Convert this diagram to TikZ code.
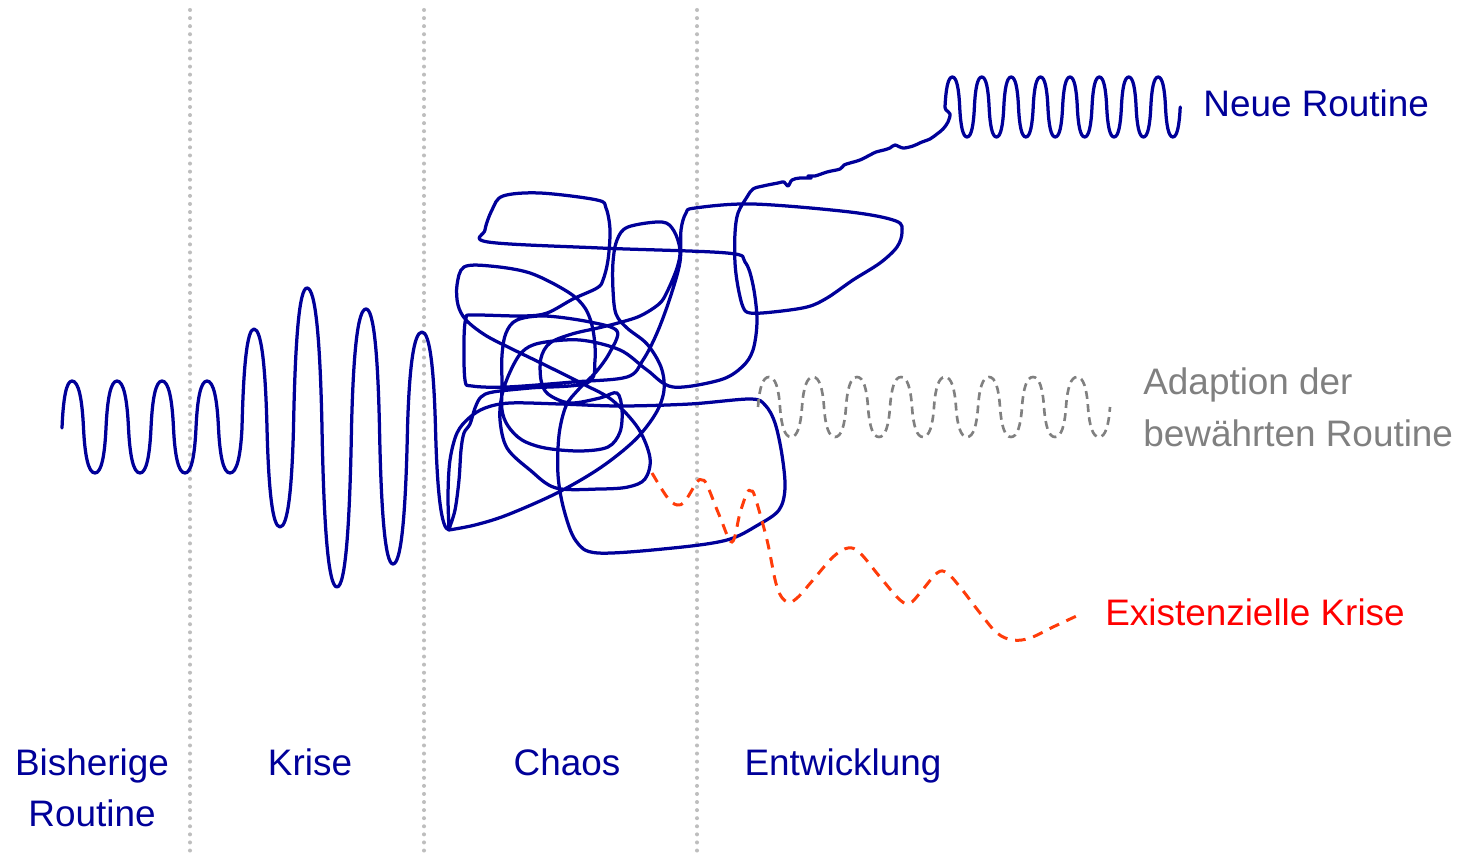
\documentclass[tikz,border=0pt]{standalone}
\usepackage{fontspec}
\setmainfont{Liberation Sans}
\definecolor{navy}{RGB}{0,0,153}
\definecolor{redline}{RGB}{255,60,10}
\definecolor{graytext}{RGB}{128,128,128}
\definecolor{dotgray}{RGB}{190,190,190}
% quarter waves: crossing -> extreme, extreme -> crossing
\newcommand\wext[2]{.. controls +({0.12*#1},{0.62*#2}) and +({-0.58*#1},0) .. ++(#1,#2)}
\newcommand\wcross[2]{.. controls +({0.58*#1},0) and +({-0.12*#1},{-0.62*#2}) .. ++(#1,#2)}
\newcommand\nrperiod{\wext{7.35}{-30}\wcross{7.35}{30}\wext{7.35}{30}\wcross{7.35}{-30}}
\newcommand\adperiod{\wext{11}{-30}\wcross{11}{30}\wext{11}{30}\wcross{11}{-30}}
\begin{document}
\begin{tikzpicture}[x=0.02cm,y=-0.02cm,
  lbl/.style={inner sep=0pt,font=\fontsize{21}{29}\selectfont},
  dotline/.style={dotgray,line width=2.3pt,line cap=round,dash pattern=on 0pt off 4.6pt},
  blueline/.style={navy,line width=1.85pt,line join=round,line cap=round},
  graywave/.style={graytext,line width=1.5pt,dash pattern=on 4.5pt off 3pt},
  redwave/.style={redline,line width=1.7pt,dash pattern=on 6pt off 4.5pt}]
\useasboundingbox (0,0) rectangle (1466,858);
% phase separators
\draw[dotline] (190,10) -- (190,858);
\draw[dotline] (424,10) -- (424,858);
\draw[dotline] (697,10) -- (697,858);
% main blue line
\draw[blueline] (62,428)
  \wext{10}{-47} \wcross{11.5}{47} \wext{11.5}{45} \wcross{11}{-45}
  \wext{11}{-47} \wcross{11.5}{47} \wext{11.5}{45} \wcross{11}{-45}
  \wext{11}{-47} \wcross{11.5}{47} \wext{11.5}{45} \wcross{11}{-45}
  \wext{11}{-47} \wcross{11.5}{47} \wext{11.5}{45} \wcross{12}{-45}
  \wext{12}{-99} \wcross{13}{99} \wext{13}{99} \wcross{13.5}{-99}
  \wext{13.5}{-140} \wcross{15}{140} \wext{15}{159} \wcross{14.5}{-159}
  \wext{14.5}{-119} \wcross{13.5}{119} \wext{13.5}{136} \wcross{14.5}{-136}
  \wext{14.5}{-96} \wcross{13.5}{96} \wext{13.5}{102}
  -- plot[smooth,tension=0.55] coordinates {(449,530) (475,525) (507,515) (557,493) (600,468) (635,440) (656,413) (664,390) (661,367) (647,344) (627,328) (616,314) (613,290) (613,262) (617,240) (628,227) (662,222) (674,231) (680,250) (677,268) (667,292) (659,304) (640,316) (618,323) (598,328) (572,334) (550,343) (541,358) (541,380) (548,394) (570,403) (600,398) (617,393) (622,410) (620,432) (608,447) (580,451) (545,448) (522,440) (508,426) (502,410) (502,385) (502,355) (506,333) (517,320) (545,316) (590,322) (617,331) (610,352) (596,372) (578,390) (566,406) (559,435) (558,475) (564,510) (576,541) (598,553) (673,548) (727,540) (758,525) (779,510) (785,488) (782,455) (775,423) (765,405) (750,399) (690,404) (620,406) (560,404) (510,403) (485,408) (469,418) (457,433) (450,460) (448,495) (449,529)}
  -- plot[smooth,tension=0.55] coordinates {(449,529) (455,510) (459,480) (461,450) (464,433) (470,424) (475,408) (481,397) (493,392) (530,388) (587,383) (595,360) (593,330) (585,308) (568,292) (530,273) (490,266) (464,267) (457,285) (458,305) (466,320) (485,335) (510,348) (545,365) (583,384) (612,400) (638,428) (650,458) (645,479) (628,487) (600,489) (556,488) (530,470) (507,448) (500,420) (502,395) (510,372) (522,352) (540,343) (580,340) (620,350) (647,370) (673,387) (720,380) (742,367) (753,350) (757,320) (753,285) (745,262) (727,253) (600,248) (488,242) (485,230) (492,210) (503,196) (540,193) (597,200) (606,208) (610,230) (608,260) (603,280) (597,288) (573,299) (547,313) (523,316) (473,315) (466,318) (464,340) (465,380) (472,386) (507,387) (573,382) (627,377) (643,360) (657,333) (670,298) (680,262) (681,230) (686,213) (695,208) (753,204) (850,212) (896,221) (902,232) (897,247) (880,263) (853,280) (827,298) (807,307) (773,312) (750,313) (743,307) (738,287) (735,263) (735,233) (738,213) (747,197) (753,189) (763,186) (778,183) (784,182) (788,186) (792,180) (800,178) (811,178) (808,176) (815,176) (827,172) (840,169) (844,165) (850,163) (860,160) (870,155) (876,152) (884,150) (890,148) (895,145) (903,148) (913,146) (922,142) (930,139) (937,134) (943,129) (948,122) (950,114) (946,110) (945,107)}
  \nrperiod\nrperiod\nrperiod\nrperiod\nrperiod\nrperiod\nrperiod\nrperiod;
% adaption (gray dashed)
\draw[graywave] (758,407) \adperiod\adperiod\adperiod\adperiod\adperiod\adperiod\adperiod\adperiod;
% existential crisis (red dashed)
\draw[redwave] plot[smooth,tension=0.6] coordinates {(652,473) (667,497) (677,505) (685,501) (697,482) (702,480) (707,485) (720,517) (732,542) (740,513) (747,493) (751,491) (755,497) (767,540) (777,587) (787,602) (797,598) (813,580) (833,557) (848,548) (860,553) (880,577) (900,600) (910,603) (920,593) (937,573) (947,573) (960,587) (980,613) (997,633) (1013,640) (1030,638) (1053,627) (1083,613)};
% labels
\node[lbl,navy,anchor=base] (bis1) at (92,775) {Bisherige};
\node[lbl,navy,anchor=base] (bis2) at (92,826) {Routine};
\node[lbl,navy,anchor=base] (krise) at (310,775) {Krise};
\node[lbl,navy,anchor=base] (chaos) at (567,775) {Chaos};
\node[lbl,navy,anchor=base] (entw) at (843,775) {Entwicklung};
\node[lbl,navy,anchor=base west] (neue) at (1203,117) {Neue Routine};
\node[lbl,graytext,anchor=base west] (adapt1) at (1143,394) {Adaption der};
\node[lbl,graytext,anchor=base west] (adapt2) at (1143,446) {bewährten Routine};
\node[lbl,red,anchor=base west] (exist) at (1105,625) {Existenzielle Krise};
\end{tikzpicture}
\end{document}
